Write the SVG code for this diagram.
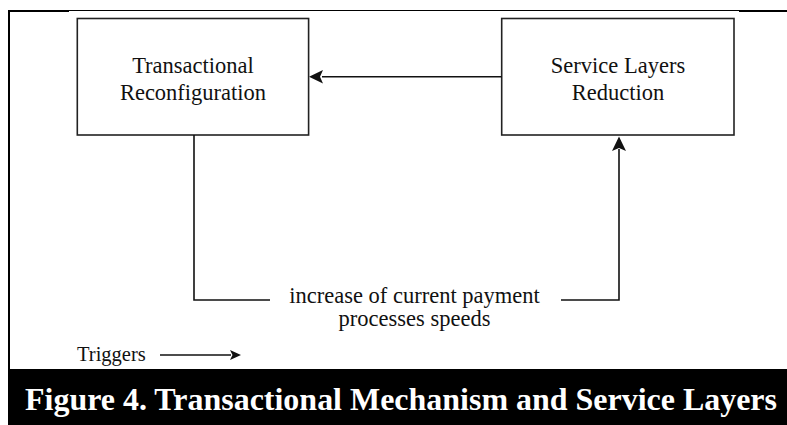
<svg xmlns="http://www.w3.org/2000/svg" width="787" height="425" viewBox="0 0 787 425" font-family="Liberation Serif, Tinos, Times New Roman, serif">
<style>
.box{fill:#fff;stroke:#222;stroke-width:1.6}
.lbl{font-size:22.5px;fill:#111;text-anchor:middle}
.con{fill:none;stroke:#111;stroke-width:1.6}
.head{fill:#111}
</style>
<rect width="787" height="425" fill="#fff"/>
<g id="caption">
<rect x="8" y="369" width="779" height="56" fill="#000"/>
<text x="25" y="409.5" font-weight="bold" font-size="32" fill="#fff" textLength="752" lengthAdjust="spacingAndGlyphs">Figure 4. Transactional Mechanism and Service Layers</text>
</g>
<g id="frame">
<path d="M8,10.5 H787" stroke="#000" stroke-width="1"/>
<path d="M8,11 H69 M739,11 H787 M9,10 V370" stroke="#000" stroke-width="2"/>
</g>
<g id="node-transactional">
<rect class="box" x="77.3" y="18.5" width="231.3" height="116.5"/>
<text class="lbl" x="193" y="72.7">Transactional</text>
<text class="lbl" x="193" y="100">Reconfiguration</text>
</g>
<g id="node-service">
<rect class="box" x="501.7" y="18.5" width="232.3" height="116.5"/>
<text class="lbl" x="618" y="72.7">Service Layers</text>
<text class="lbl" x="618" y="100">Reduction</text>
</g>
<g id="label-increase">
<text class="lbl" x="414.5" y="303">increase of current payment</text>
<text class="lbl" x="414.5" y="326">processes speeds</text>
</g>
<g id="legend">
<text x="77" y="361" font-size="20.5" fill="#111">Triggers</text>
</g>
<g id="connectors">
<path class="con" d="M501.7,76.7 H322"/>
<path class="head" d="M309,76.7 L323,70 L320,76.7 L323,83.4 Z"/>
<path class="con" d="M194,135 V300 H270"/>
<path class="con" d="M561,300 H619 V149"/>
<path class="head" d="M619,136.5 L612,151 L619,148 L626,151 Z"/>
<path class="con" d="M160,355 H231"/>
<path class="head" d="M241,355 L230,350 L232.5,355 L230,360 Z"/>
</g>
</svg>
